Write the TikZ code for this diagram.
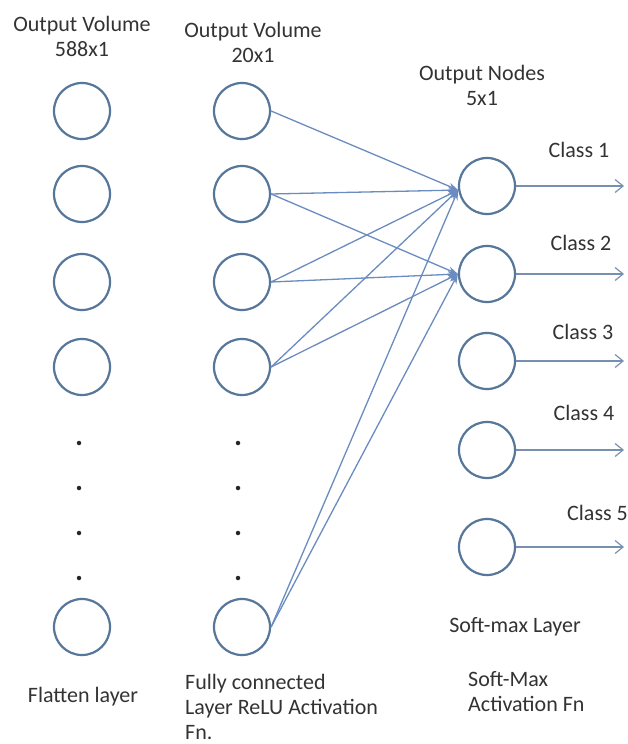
\documentclass[tikz,border=0pt]{standalone}
\usepackage{fontspec}
\setmainfont{Carlito}
\usetikzlibrary{arrows.meta}
\definecolor{circ}{HTML}{56769A}
\definecolor{conn}{HTML}{6A8CC0}
\definecolor{tip}{HTML}{4A78C8}
\definecolor{outl}{HTML}{7890B0}
\definecolor{txt}{HTML}{333333}
\tikzset{
  neuron/.style={circle,draw=circ,line width=2.2pt,minimum size=56pt,inner sep=0pt},
  dotnode/.style={circle,fill=black!85,inner sep=0pt,minimum size=4.5pt},
  lbl/.style={font=\fontsize{22}{25}\selectfont,text=txt,inner sep=0pt},
  conn/.style={draw=conn,line width=1.3pt,-{Stealth[length=10pt,width=7pt,fill=tip]}},
  outarrow/.style={draw=outl,line width=1.4pt,-{Straight Barb[length=8pt,width=13pt,line width=1.2pt]}}
}
\begin{document}
\begin{tikzpicture}[x=1pt,y=-1pt]
\useasboundingbox[fill=white] (0,0) rectangle (627,744);
% headers
\node[lbl,align=center] (h1) at (82,36) {Output Volume\\588x1};
\node[lbl,align=center] (h2) at (253,42) {Output Volume\\20x1};
\node[lbl,align=center] (h3) at (482,85) {Output Nodes\\5x1};
% left column
\node[neuron] (l1) at (82,111) {};
\node[neuron] (l2) at (82,194) {};
\node[neuron] (l3) at (82,282) {};
\node[neuron] (l4) at (82,367) {};
\node[neuron] (l5) at (82,627) {};
\node[dotnode] (ld1) at (79,443) {};
\node[dotnode] (ld2) at (79,488) {};
\node[dotnode] (ld3) at (79,533) {};
\node[dotnode] (ld4) at (79,578) {};
% middle column
\node[neuron] (m1) at (242,111) {};
\node[neuron] (m2) at (242,194) {};
\node[neuron] (m3) at (242,282) {};
\node[neuron] (m4) at (242,367) {};
\node[neuron] (m5) at (242,627) {};
\node[dotnode] (md1) at (238,443) {};
\node[dotnode] (md2) at (238,488) {};
\node[dotnode] (md3) at (238,533) {};
\node[dotnode] (md4) at (238,578) {};
% output column
\node[neuron] (o1) at (487,186) {};
\node[neuron] (o2) at (487,274) {};
\node[neuron] (o3) at (487,361) {};
\node[neuron] (o4) at (487,450) {};
\node[neuron] (o5) at (487,547) {};
% connections
\draw[conn] (m1.east) -- (o1.188);
\draw[conn] (m2.east) -- (o1.188);
\draw[conn] (m3.east) -- (o1.188);
\draw[conn] (m4.east) -- (o1.188);
\draw[conn] (m5.east) -- (o1.188);
\draw[conn] (m2.east) -- (o2.west);
\draw[conn] (m3.east) -- (o2.west);
\draw[conn] (m4.east) -- (o2.west);
\draw[conn] (m5.east) -- (o2.west);
% outputs
\coordinate (e1) at (624,186);
\coordinate (e2) at (624,274);
\coordinate (e3) at (624,361);
\coordinate (e4) at (624,450);
\coordinate (e5) at (624,547);
\draw[outarrow] (o1.east) -- (e1);
\draw[outarrow] (o2.east) -- (e2);
\draw[outarrow] (o3.east) -- (e3);
\draw[outarrow] (o4.east) -- (e4);
\draw[outarrow] (o5.east) -- (e5);
\node[lbl] (c1) at (579,150) {Class 1};
\node[lbl] (c2) at (581,243) {Class 2};
\node[lbl] (c3) at (583,332) {Class 3};
\node[lbl] (c4) at (584,413) {Class 4};
\node[lbl,anchor=west] (c5) at (567,513) {Class 5};
% bottom labels
\node[lbl] (b1) at (83,697) {Flatten layer};
\node[lbl,align=left,anchor=north west] (b2) at (185,674) {Fully connected\\Layer ReLU Activation\\Fn.};
\node[lbl] (b3) at (515,627) {Soft-max Layer};
\node[lbl,align=left,anchor=north west] (b4) at (468,671) {Soft-Max\\Activation Fn};
\end{tikzpicture}
\end{document}
